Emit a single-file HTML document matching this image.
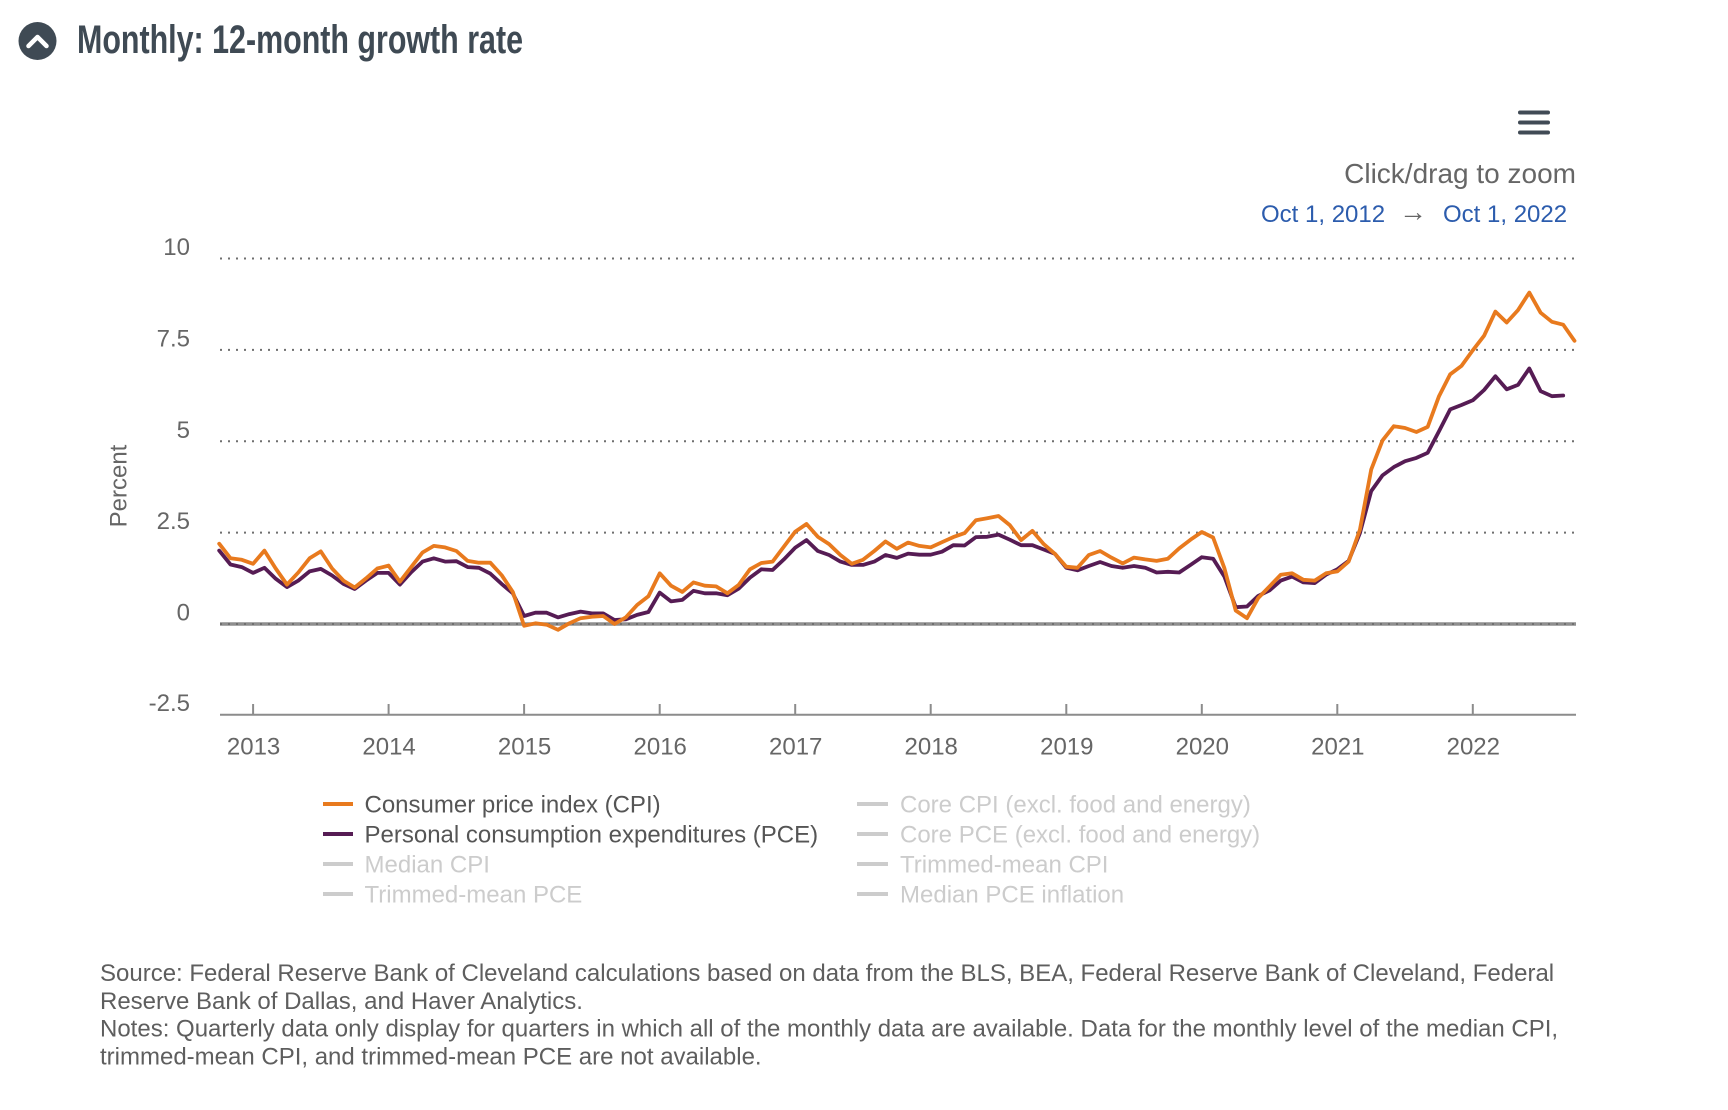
<!DOCTYPE html>
<html>
<head>
<meta charset="utf-8">
<style>
html,body{margin:0;padding:0;background:#fff;}
svg{display:block;}
text{font-family:"Liberation Sans",Arial,sans-serif;}
</style>
</head>
<body>
<svg width="1728" height="1110" viewBox="0 0 1728 1110" xmlns="http://www.w3.org/2000/svg">
<rect width="1728" height="1110" fill="#fff"/>

<!-- Title -->
<circle cx="37.5" cy="41" r="19" fill="#3f4a54"/>
<polyline points="28.5,46 37.5,37 46.5,46" fill="none" stroke="#fff" stroke-width="4.5" stroke-linecap="round" stroke-linejoin="round"/>
<text x="77" y="53" font-size="39.5" font-weight="bold" fill="#3f4a54" textLength="446" lengthAdjust="spacingAndGlyphs">Monthly: 12-month growth rate</text>

<!-- Hamburger -->
<g stroke="#414b55" stroke-width="4" stroke-linecap="round">
<line x1="1520" y1="112.5" x2="1548" y2="112.5"/>
<line x1="1520" y1="122.5" x2="1548" y2="122.5"/>
<line x1="1520" y1="132.5" x2="1548" y2="132.5"/>
</g>

<text x="1576" y="183" font-size="28" fill="#666" text-anchor="end">Click/drag to zoom</text>
<text x="1261" y="222" font-size="24" fill="#2c5cad">Oct 1, 2012</text>
<text x="1399" y="221" font-size="28" fill="#666" font-family="DejaVu Sans, sans-serif">→</text>
<text x="1443" y="222" font-size="24" fill="#2c5cad">Oct 1, 2022</text>

<!-- zero plot line -->
<line x1="220" y1="624" x2="1576" y2="624" stroke="#8e8e8e" stroke-width="3.5"/>

<!-- grid lines -->
<g stroke="#6f6f6f" stroke-width="2" stroke-dasharray="2 6">
<line x1="220" y1="258.5" x2="1576" y2="258.5"/>
<line x1="220" y1="349.9" x2="1576" y2="349.9"/>
<line x1="220" y1="441.3" x2="1576" y2="441.3"/>
<line x1="220" y1="532.6" x2="1576" y2="532.6"/>
<line x1="220" y1="624" x2="1576" y2="624"/>
</g>

<!-- x axis -->
<line x1="220" y1="714.8" x2="1576" y2="714.8" stroke="#8c8c8c" stroke-width="2"/>
<g stroke="#8c8c8c" stroke-width="2">
<line x1="253.1" y1="704" x2="253.1" y2="714"/>
<line x1="388.6" y1="704" x2="388.6" y2="714"/>
<line x1="524.1" y1="704" x2="524.1" y2="714"/>
<line x1="659.7" y1="704" x2="659.7" y2="714"/>
<line x1="795.2" y1="704" x2="795.2" y2="714"/>
<line x1="930.7" y1="704" x2="930.7" y2="714"/>
<line x1="1066.3" y1="704" x2="1066.3" y2="714"/>
<line x1="1201.8" y1="704" x2="1201.8" y2="714"/>
<line x1="1337.3" y1="704" x2="1337.3" y2="714"/>
<line x1="1472.8" y1="704" x2="1472.8" y2="714"/>
</g>

<!-- y labels -->
<g font-size="24" fill="#666" text-anchor="end">
<text x="190" y="255">10</text>
<text x="190" y="346.4">7.5</text>
<text x="190" y="437.8">5</text>
<text x="190" y="529.1">2.5</text>
<text x="190" y="620.5">0</text>
<text x="190" y="711">-2.5</text>
</g>
<text x="0" y="0" font-size="24" fill="#666" text-anchor="middle" transform="translate(126.5,486) rotate(-90)">Percent</text>

<!-- x labels -->
<g font-size="24" fill="#666" text-anchor="middle">
<text x="253.6" y="754.5">2013</text>
<text x="389.1" y="754.5">2014</text>
<text x="524.6" y="754.5">2015</text>
<text x="660.2" y="754.5">2016</text>
<text x="795.7" y="754.5">2017</text>
<text x="931.2" y="754.5">2018</text>
<text x="1066.8" y="754.5">2019</text>
<text x="1202.3" y="754.5">2020</text>
<text x="1337.8" y="754.5">2021</text>
<text x="1473.3" y="754.5">2022</text>
</g>

<!-- PCE series -->
<polyline fill="none" stroke="#561c54" stroke-width="3.8" stroke-linejoin="round" stroke-linecap="round" points="
219.2,550.6 230.5,564.5 241.8,567.1 253.1,572.9 264.4,567.8 275.7,578.7 287.0,587.1 298.3,580.6 309.6,571.4 320.8,568.9
332.1,575.5 343.4,583.9 354.7,589.0 366.0,580.6 377.3,572.9 388.6,572.9 399.9,584.6 411.2,572.2 422.5,561.6 433.8,558.3
445.1,561.6 456.4,561.2 467.7,567.1 479.0,567.8 490.3,573.6 501.6,583.9 512.8,593.3 524.1,616.0 535.4,612.7 546.7,612.7
558.0,617.4 569.3,614.1 580.6,611.6 591.9,613.4 603.2,613.4 614.5,620.0 625.8,619.3 637.1,614.9 648.4,612.0 659.7,592.6
671.0,601.4 682.3,599.9 693.5,590.8 704.8,593.3 716.1,593.3 727.4,595.2 738.7,588.6 750.0,577.6 761.3,569.3 772.6,570.0
783.9,559.4 795.2,547.7 806.5,540.1 817.8,551.0 829.1,555.0 840.4,561.6 851.7,564.9 863.0,564.9 874.3,561.6 885.5,555.0
896.8,557.9 908.1,553.6 919.4,554.7 930.7,554.7 942.0,551.7 953.3,545.2 964.6,545.5 975.9,537.1 987.2,536.8 998.5,534.6
1009.8,539.7 1021.1,545.2 1032.4,545.2 1043.7,549.5 1055.0,553.9 1066.3,567.8 1077.5,570.3 1088.8,566.0 1100.1,562.0 1111.4,566.0
1122.7,567.8 1134.0,566.0 1145.3,567.8 1156.6,572.5 1167.9,571.8 1179.2,572.5 1190.5,564.9 1201.8,557.2 1213.1,558.7 1224.4,576.6
1235.7,607.2 1247.0,606.5 1258.2,595.9 1269.5,590.4 1280.8,580.6 1292.1,576.6 1303.4,582.4 1314.7,583.1 1326.0,574.7 1337.3,569.3
1348.6,560.9 1359.9,533.1 1371.2,491.1 1382.5,475.4 1393.8,467.1 1405.1,461.2 1416.4,457.9 1427.7,452.8 1439.0,431.3 1450.2,409.4
1461.5,405.0 1472.8,400.3 1484.1,390.0 1495.4,376.2 1506.7,389.3 1518.0,384.9 1529.3,368.5 1540.6,391.1 1551.9,396.2 1563.2,395.5"/>

<!-- CPI series -->
<polyline fill="none" stroke="#e87a1e" stroke-width="3.8" stroke-linejoin="round" stroke-linecap="round" points="
219.2,543.7 230.5,558.3 241.8,559.8 253.1,563.8 264.4,550.6 275.7,568.5 287.0,584.6 298.3,572.5 309.6,558.3 320.8,551.4
332.1,568.5 343.4,580.6 354.7,587.5 366.0,578.4 377.3,568.5 388.6,565.6 399.9,581.7 411.2,567.1 422.5,552.5 433.8,545.9
445.1,547.4 456.4,551.0 467.7,560.9 479.0,562.7 490.3,562.7 501.6,575.1 512.8,591.9 524.1,625.8 535.4,623.3 546.7,624.7
558.0,629.8 569.3,623.3 580.6,618.2 591.9,616.7 603.2,616.0 614.5,624.0 625.8,617.4 637.1,605.0 648.4,596.3 659.7,573.3
671.0,585.7 682.3,591.9 693.5,582.4 704.8,585.7 716.1,586.4 727.4,593.3 738.7,584.9 750.0,569.3 761.3,563.0 772.6,561.6
783.9,546.6 795.2,531.7 806.5,524.0 817.8,536.8 829.1,544.1 840.4,555.0 851.7,563.8 863.0,559.8 874.3,551.0 885.5,541.5
896.8,548.8 908.1,542.6 919.4,545.9 930.7,547.4 942.0,542.2 953.3,537.1 964.6,533.1 975.9,520.3 987.2,518.2 998.5,516.0
1009.8,525.1 1021.1,540.1 1032.4,530.9 1043.7,544.1 1055.0,553.9 1066.3,566.7 1077.5,567.8 1088.8,555.0 1100.1,551.0 1111.4,557.6
1122.7,563.4 1134.0,557.6 1145.3,559.4 1156.6,560.9 1167.9,558.7 1179.2,548.4 1190.5,539.7 1201.8,532.0 1213.1,537.5 1224.4,568.2
1235.7,610.5 1247.0,618.2 1258.2,598.1 1269.5,586.4 1280.8,574.7 1292.1,573.3 1303.4,579.8 1314.7,580.6 1326.0,573.3 1337.3,571.4
1348.6,561.6 1359.9,529.8 1371.2,469.6 1382.5,440.4 1393.8,426.2 1405.1,428.0 1416.4,432.0 1427.7,426.9 1439.0,396.2 1450.2,374.3
1461.5,365.9 1472.8,350.3 1484.1,335.7 1495.4,311.6 1506.7,322.5 1518.0,310.1 1529.3,292.6 1540.6,312.7 1551.9,321.8 1563.2,324.7
1574.5,340.8"/>

<!-- Legend -->
<g stroke-width="4">
<line x1="323" y1="804" x2="353" y2="804" stroke="#e87a1e"/>
<line x1="323" y1="834" x2="353" y2="834" stroke="#561c54"/>
<line x1="323" y1="864" x2="353" y2="864" stroke="#cccccc"/>
<line x1="323" y1="894" x2="353" y2="894" stroke="#cccccc"/>
<line x1="857" y1="804" x2="888" y2="804" stroke="#cccccc"/>
<line x1="857" y1="834" x2="888" y2="834" stroke="#cccccc"/>
<line x1="857" y1="864" x2="888" y2="864" stroke="#cccccc"/>
<line x1="857" y1="894" x2="888" y2="894" stroke="#cccccc"/>
</g>
<g font-size="24">
<text x="364.5" y="812.5" fill="#555">Consumer price index (CPI)</text>
<text x="364.5" y="842.5" fill="#555">Personal consumption expenditures (PCE)</text>
<text x="364.5" y="872.5" fill="#cccccc">Median CPI</text>
<text x="364.5" y="902.5" fill="#cccccc">Trimmed-mean PCE</text>
<text x="900" y="812.5" fill="#cccccc">Core CPI (excl. food and energy)</text>
<text x="900" y="842.5" fill="#cccccc">Core PCE (excl. food and energy)</text>
<text x="900" y="872.5" fill="#cccccc">Trimmed-mean CPI</text>
<text x="900" y="902.5" fill="#cccccc">Median PCE inflation</text>
</g>

<!-- Footer -->
<g font-size="24" fill="#5e5e5e">
<text x="100" y="981">Source: Federal Reserve Bank of Cleveland calculations based on data from the BLS, BEA, Federal Reserve Bank of Cleveland, Federal</text>
<text x="100" y="1008.8">Reserve Bank of Dallas, and Haver Analytics.</text>
<text x="100" y="1036.6">Notes: Quarterly data only display for quarters in which all of the monthly data are available. Data for the monthly level of the median CPI,</text>
<text x="100" y="1064.4">trimmed-mean CPI, and trimmed-mean PCE are not available.</text>
</g>
</svg>
</body>
</html>
